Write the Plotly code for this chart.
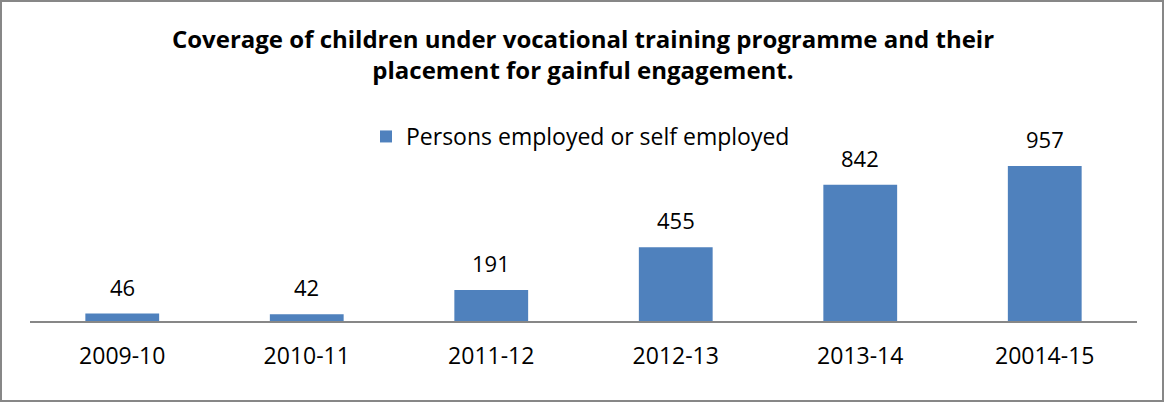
import plotly.graph_objects as go

categories = ["2009-10", "2010-11", "2011-12", "2012-13", "2013-14", "20014-15"]
values = [46, 42, 191, 455, 842, 957]
series_name = "Persons employed or self employed"
title_text = "Coverage of children under vocational training programme and their<br>placement for gainful engagement."

W, H = 1165, 403
L, R, T, B = 30, 28, 150, 82
pw, ph = W - L - R, H - T - B
FONT = "Open Sans, Liberation Sans, Arial"

fig = go.Figure()
fig.add_trace(go.Bar(
    x=categories, y=values, name=series_name,
    marker=dict(color="#4F81BD", line=dict(width=0)),
    width=0.4,
    cliponaxis=False,
    showlegend=True,
))

for c, v in zip(categories, values):
    fig.add_annotation(x=c, y=v, xref="x", yref="y", text=str(v), showarrow=False,
                       yanchor="bottom", yshift=10,
                       font=dict(size=22, color="#000000", family=FONT))

fig.update_layout(
    width=W, height=H,
    margin=dict(l=L, r=R, t=T, b=B),
    paper_bgcolor="white", plot_bgcolor="white",
    font=dict(family=FONT, color="#000000"),
    title=dict(text="<b>" + title_text + "</b>", x=(583 - L) / pw, xref="paper", xanchor="center",
               y=1 - 48 / H, yanchor="top", yref="container",
               font=dict(size=24, family=FONT, color="#000000")),
    showlegend=True,
    legend=dict(orientation="h", x=(366 - L) / pw, xanchor="left", y=1 + (T - 115) / ph, yanchor="top",
                font=dict(size=23, family=FONT), bgcolor="rgba(0,0,0,0)"),
    xaxis=dict(type="category", showline=True, linecolor="#878787", linewidth=1.5, ticks="", showgrid=False,
               tickfont=dict(size=23, family=FONT), ticklabelstandoff=14),
    yaxis=dict(range=[0, 957 * (321 - T) / (321 - 166)], visible=False, showgrid=False, zeroline=False),
    shapes=[dict(type="rect", xref="paper", yref="paper",
                 x0=(1 - L) / pw, x1=(W - 2 - L) / pw,
                 y0=-(B - 2) / ph, y1=1 + (T - 1) / ph,
                 line=dict(color="#878787", width=2), fillcolor="rgba(0,0,0,0)")],
)

fig.write_html("out.html", config={"displayModeBar": False},
               post_script="document.body.style.margin='0';document.body.style.overflow='hidden';")
